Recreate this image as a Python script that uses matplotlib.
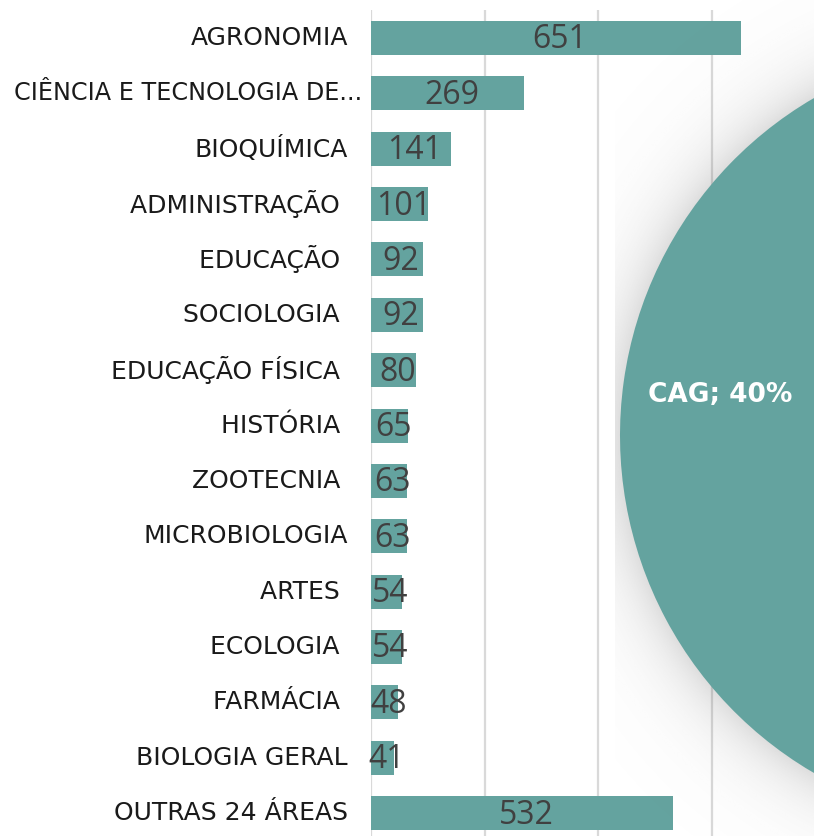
import numpy as np
import matplotlib
matplotlib.use("Agg")
import matplotlib.pyplot as plt

categories = ["AGRONOMIA", "CIÊNCIA E TECNOLOGIA DE...", "BIOQUÍMICA", "ADMINISTRAÇÃO ",
              "EDUCAÇÃO ", "SOCIOLOGIA ", "EDUCAÇÃO FÍSICA ", "HISTÓRIA ", "ZOOTECNIA ",
              "MICROBIOLOGIA", "ARTES ", "ECOLOGIA ", "FARMÁCIA ", "BIOLOGIA GERAL",
              "OUTRAS 24 ÁREAS"]
values = [651, 269, 141, 101, 92, 92, 80, 65, 63, 63, 54, 54, 48, 41, 532]
xticks = [0, 200, 400, 600]

pie_labels = ["CAG; 40%", ""]
pie_values = [40, 60]

TEAL = "#64a39f"
TXT = "#404040"
W, H = 814, 836

fig = plt.figure(figsize=(W / 100, H / 100), dpi=100)

# ---- bar chart ----
x0_px, top_px = 371, 10
ax = fig.add_axes([x0_px / W, 0, (W - x0_px) / W, (H - top_px) / H])
px_per_unit = 370 / 651
row_px = 55.36
first_c = 38
y = np.arange(len(categories))
ax.barh(y, values, height=34 / row_px, color=TEAL, zorder=2)
ax.set_xlim(0, (W - x0_px) / px_per_unit)
ax.set_ylim((H - first_c) / row_px, (top_px - first_c) / row_px)
ax.set_xticks(xticks)
ax.set_xticklabels([])
ax.tick_params(axis="x", length=0)
ax.grid(axis="x", color="#d9d9d9", linewidth=1.6, zorder=0)
ax.set_axisbelow(True)
ax.set_yticks(y)
ax.set_yticklabels([])
ax.tick_params(axis="y", length=0)
for s in ax.spines.values():
    s.set_visible(False)

for yi, lab in zip(y, categories):
    long = len(lab) > 20
    ax.annotate(lab, xy=(0, yi), xycoords=("axes fraction", "data"),
                xytext=(-9 if long else -23, 0), textcoords="offset pixels",
                ha="right", va="center", fontsize=17.2 if long else 18,
                color="#1a1a1a", family="DejaVu Sans", annotation_clip=False)

for yi, v in zip(y, values):
    ax.annotate(str(v), xy=(v / 2, yi), xytext=(4, -2), textcoords="offset pixels",
                ha="center", va="center", fontsize=23, color=TXT,
                family="Open Sans", zorder=3)

# ---- pie (partially visible) ----
cx, cy, r = 1010.6, 435.5, 390.6
left_px = 615
pax = fig.add_axes([left_px / W, 0, (W - left_px) / W, 1])
pax.patch.set_alpha(0)
# shadow
xl = ((left_px - cx) / r, (W - cx) / r)
yl = ((cy - H) / r, cy / r)
gx = np.linspace(xl[0], xl[1], 300)
gy = np.linspace(yl[1], yl[0], 900)
GX, GY = np.meshgrid(gx, gy)
dist_px = (np.hypot(GX, GY) - 1.0) * r
alpha = np.where(dist_px < 0, 0.22, 0.22 * np.exp(-np.clip(dist_px, 0, None) / 30.0))
img = np.zeros((len(gy), len(gx), 4))
img[..., :3] = 0.4
img[..., 3] = alpha
pax.imshow(img, extent=(xl[0], xl[1], yl[0], yl[1]), zorder=0, aspect="auto",
           interpolation="bilinear")
wedges, texts = pax.pie(pie_values, labels=pie_labels, colors=[TEAL, TEAL],
                        startangle=100, labeldistance=0.75, radius=1,
                        textprops=dict(color="white", fontsize=19, fontweight="bold",
                                       family="DejaVu Sans"))
for w in wedges:
    w.set_zorder(2)
for t in texts:
    t.set_ha("center")
    t.set_va("center")
    t.set_zorder(3)
pax.set_aspect("auto")
pax.set_xlim(*xl)
pax.set_ylim(*yl)
pax.axis("off")

fig.savefig("out.png", dpi=100)
